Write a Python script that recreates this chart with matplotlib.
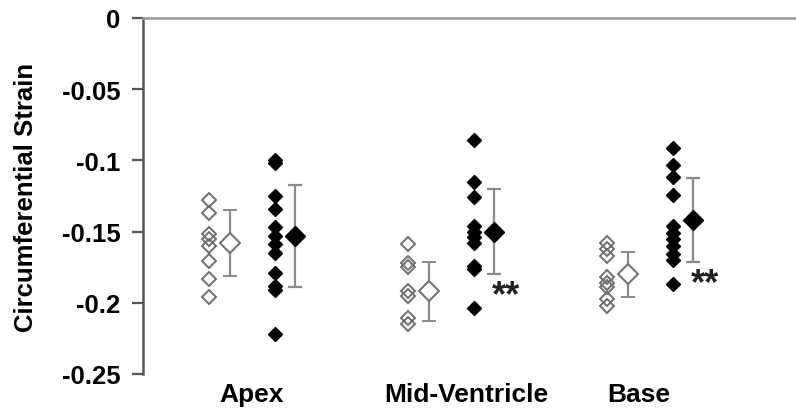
import matplotlib.pyplot as plt
import matplotlib.transforms as mtransforms

plt.rcParams['font.family'] = ['Liberation Sans', 'DejaVu Sans']
plt.rcParams['font.weight'] = 'bold'
plt.rcParams['axes.labelweight'] = 'bold'

regions = ["Apex", "Mid-Ventricle", "Base"]

# individual subject strains, open = control, filled = treated
open_points = [
    [-0.128, -0.137, -0.152, -0.155, -0.160, -0.171, -0.183, -0.196],
    [-0.159, -0.172, -0.175, -0.192, -0.195, -0.211, -0.215],
    [-0.158, -0.162, -0.167, -0.182, -0.186, -0.189, -0.197, -0.202],
]
filled_points = [
    [-0.100, -0.102, -0.125, -0.134, -0.147, -0.153, -0.159, -0.165,
     -0.179, -0.188, -0.191, -0.222],
    [-0.086, -0.115, -0.126, -0.146, -0.150, -0.154, -0.158, -0.174,
     -0.176, -0.204],
    [-0.091, -0.103, -0.112, -0.124, -0.146, -0.151, -0.155, -0.160,
     -0.166, -0.170, -0.187],
]

open_mean = [-0.158, -0.192, -0.180]
open_sd = [0.023, 0.0205, 0.0157]
filled_mean = [-0.153, -0.150, -0.142]
filled_sd = [0.036, 0.0296, 0.0293]

significance = ["", "**", "**"]

yticks = [0, -0.05, -0.1, -0.15, -0.2, -0.25]
ytick_labels = ["0", "-0.05", "-0.1", "-0.15", "-0.2", "-0.25"]

fig = plt.figure(figsize=(7.96, 4.10), dpi=100)
ax = fig.add_axes([0.1796, 0.0854, 0.8204, 0.8683])

bar_color = "#8a8a8a"
pos = [1, 2, 3]

for i, x in enumerate(pos):
    ax.plot([x - 0.216] * len(open_points[i]), open_points[i], linestyle='none',
            marker='D', markersize=7.6, markerfacecolor='none',
            markeredgecolor='#6e6e6e', markeredgewidth=1.4)
    ax.plot([x + 0.116] * len(filled_points[i]), filled_points[i], linestyle='none',
            marker='D', markersize=7.2, color='black')

    ax.errorbar(x - 0.11, open_mean[i], yerr=open_sd[i], fmt='D', markersize=10.5,
                markerfacecolor='white', markeredgecolor='#6e6e6e', markeredgewidth=1.4,
                ecolor=bar_color, elinewidth=1.6, capsize=4.7, capthick=1.6, zorder=3)
    ax.errorbar(x + 0.216, filled_mean[i], yerr=filled_sd[i], fmt='D', markersize=10.5,
                color='black', ecolor=bar_color, elinewidth=1.6, capsize=4.7,
                capthick=1.6, zorder=3)

    if significance[i]:
        ax.text(x + 0.275, filled_mean[i] - filled_sd[i] - 0.003, significance[i],
                ha='center', va='top', fontsize=26, color='#222222')

ax.set_xlim(0.4523, 3.734)
ax.set_ylim(-0.25, 0)

ax.set_yticks(yticks)
ax.set_yticklabels(ytick_labels, fontsize=18.5)
ax.set_ylabel("Circumferential Strain", fontsize=18.5, labelpad=17)

ax.set_xticks(pos)
ax.set_xticklabels(regions, fontsize=19)
ax.tick_params(axis='x', length=0, pad=6)
ax.tick_params(axis='y', direction='out', length=8, width=1.6, color='#555555', pad=8)

# nudge category labels sideways
label_shift = [0, 15, -11]
for lab, dx in zip(ax.get_xticklabels(), label_shift):
    lab.set_transform(lab.get_transform() +
                      mtransforms.ScaledTranslation(dx / 100, 0, fig.dpi_scale_trans))

ax.spines['bottom'].set_visible(False)
ax.spines['right'].set_visible(False)
ax.spines['left'].set_color('#555555')
ax.spines['left'].set_linewidth(1.8)
ax.spines['top'].set_color('#9a9a9a')
ax.spines['top'].set_linewidth(1.8)

plt.savefig('out.png', dpi=100)
